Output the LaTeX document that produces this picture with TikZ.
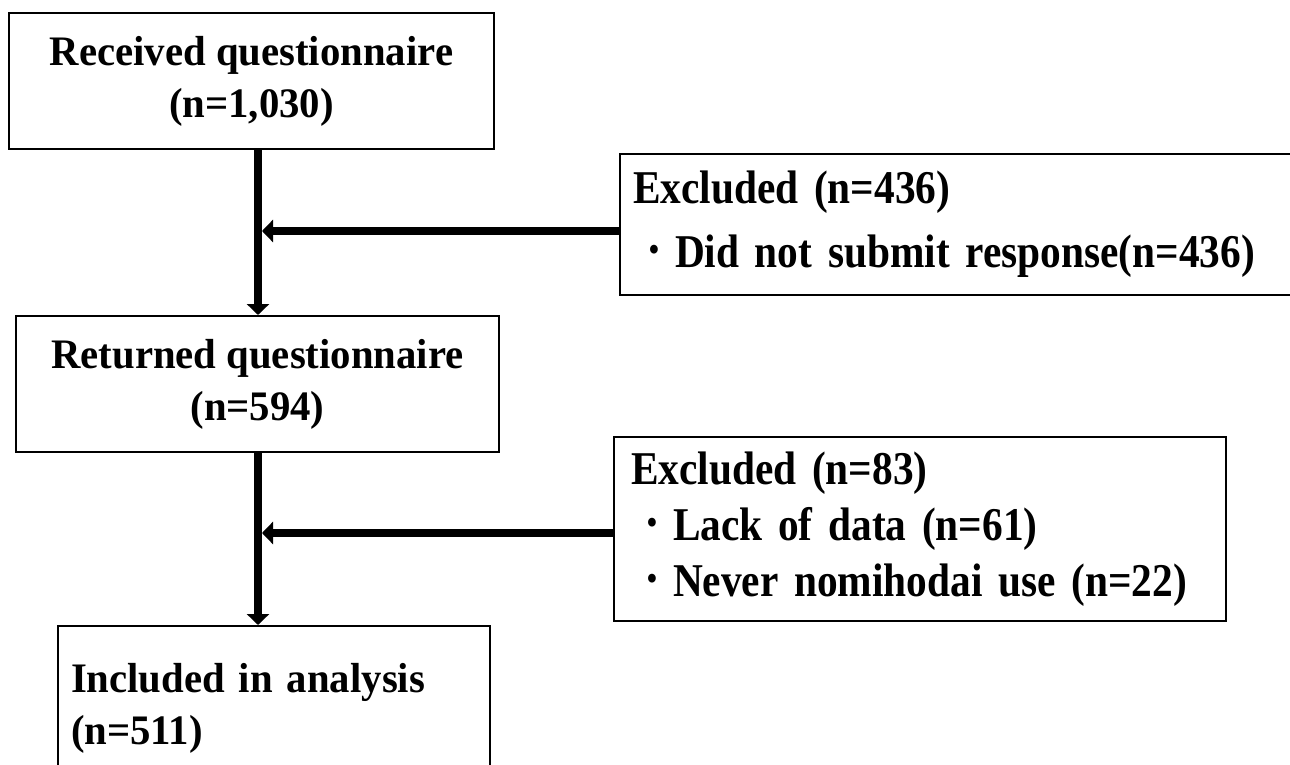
\documentclass[tikz,border=0pt]{standalone}
\usepackage{fontspec}
\setmainfont{Liberation Serif}
\newfontfamily\widetxt[FakeStretch=0.97]{Liberation Serif}
\newfontfamily\condtxt[FakeStretch=0.88]{Liberation Serif}
\usetikzlibrary{arrows.meta}

% bullet used in the exclusion lists
\newcommand{\exitem}{\makebox[42pt]{\fontsize{54}{56}\selectfont ·}}
% narrow interword spacing for the condensed lists
\newcommand{\tightwords}{\spaceskip=8pt plus 2pt minus 2pt\relax}

\begin{document}
\begin{tikzpicture}[x=1pt,y=-1pt,
  box/.style={draw=black, line width=2pt, fill=white, inner sep=0pt, anchor=north west},
  stagetxt/.style={align=center, font=\widetxt\bfseries\fontsize{42}{52}\selectfont},
  excltxt/.style={align=left, font=\condtxt\bfseries\fontsize{47}{64}\selectfont\tightwords},
  flow/.style={line width=8pt, -{Triangle[width=22pt,length=11pt]}},
]
\useasboundingbox (0,0) rectangle (1290,765);

% main stages
\node[box, stagetxt, minimum width=485pt, minimum height=136pt] (recv) at (8,12)
  {Received questionnaire\\(n=1,030)};
\node[box, stagetxt, minimum width=483pt, minimum height=136pt] (ret) at (15,315)
  {Returned questionnaire\\(n=594)};
\node[box, stagetxt, align=left, text width=406pt, inner xsep=13pt,
      minimum height=165pt] (incl) at (57,625)
  {Included in analysis\\(n=511)};

% exclusion boxes
\node[box, excltxt, text width=655pt, inner xsep=13pt, minimum height=141pt] (ex1) at (619,153)
  {Excluded (n=436)\\\exitem Did not submit response(n=436)};
\node[box, excltxt, text width=578pt, inner xsep=17pt, minimum height=184pt,
      font=\condtxt\bfseries\fontsize{47}{56}\selectfont\tightwords] (ex2) at (613,436)
  {Excluded (n=83)\\\exitem Lack of data (n=61)\\\exitem Never nomihodai use (n=22)};

% flow lines
\coordinate (vx) at (258,0);
\coordinate (j1) at (262,231);
\coordinate (j2) at (262,533);
\draw[flow] (recv.south -| vx) -- (ret.north -| vx);
\draw[flow] (ret.south -| vx) -- (incl.north -| vx);
\draw[flow] (ex1.west |- j1) -- (j1);
\draw[flow] (ex2.west |- j2) -- (j2);
\end{tikzpicture}
\end{document}
